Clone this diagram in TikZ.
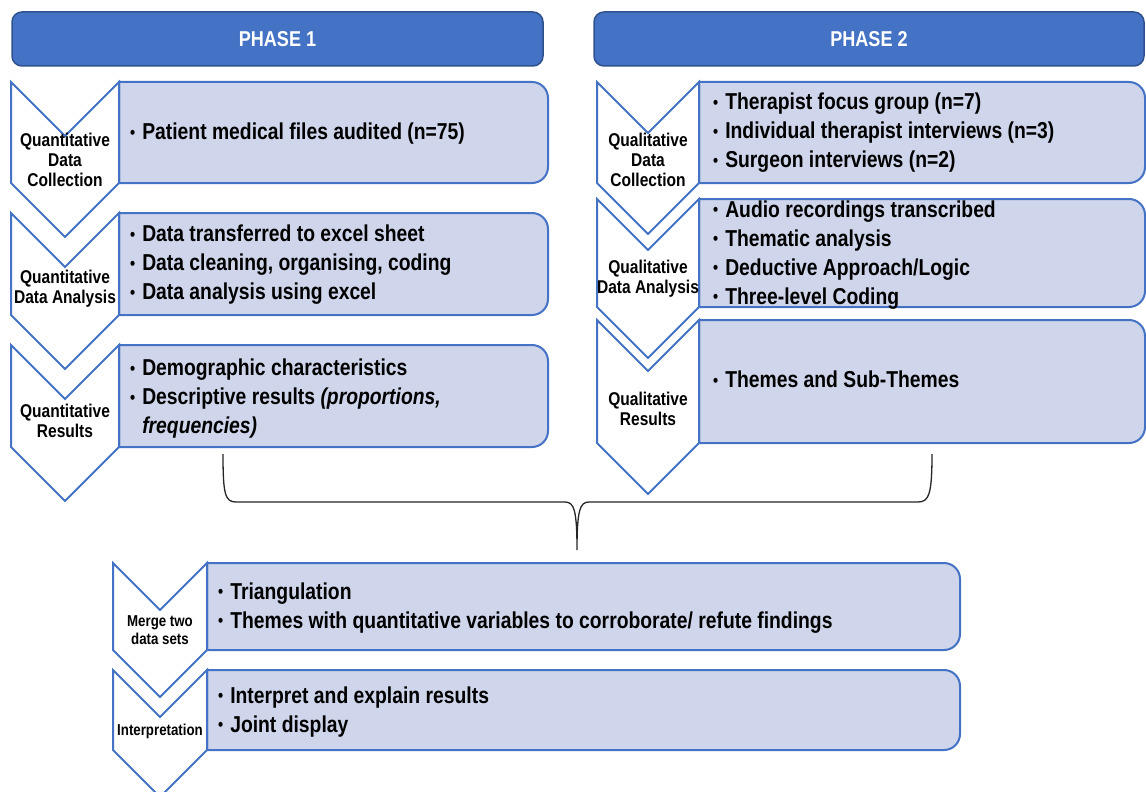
\documentclass[tikz,border=0pt]{standalone}
\usepackage{fontspec}
\usepackage{graphicx}
\setmainfont{Liberation Sans}[FakeStretch=0.84]
\definecolor{hdr}{HTML}{4472C4}
\definecolor{hdrb}{HTML}{2F528F}
\definecolor{bx}{HTML}{CFD5EA}
\definecolor{bxb}{HTML}{4472C4}
\tikzset{
 boxshape/.style={fill=bx, draw=bxb, line width=2pt},
 chevshape/.style={fill=white, draw=bxb, line width=2pt, line join=miter},
 hdrshape/.style={fill=hdr, draw=hdrb, line width=1.5pt, rounded corners=10pt,
   minimum width=531pt, minimum height=54pt, text=white,
   font=\fontsize{21.5}{24}\selectfont\bfseries},
 chevlabel/.style={align=center, inner sep=0pt, font=\fontsize{18.5}{20}\selectfont\bfseries},
 chevlabelsm/.style={align=center, inner sep=0pt, font=\fontsize{15.8}{18}\selectfont\bfseries},
 boxtext/.style={anchor=west, align=left, inner sep=0pt, font=\fontsize{23}{29}\selectfont\bfseries},
 bracestyle/.style={draw=black!85, line width=1.3pt},
}
\newcommand\rbox[4]{% x1, ytop, x2, ybottom (pixels, y down)
 \draw[boxshape] (#1,-#2) -- ({#3-16},-#2) arc[start angle=90,end angle=0,radius=16pt]
   -- (#3,{-#4+16}) arc[start angle=0,end angle=-90,radius=16pt] -- (#1,-#4) -- cycle;}
\newcommand\chev[4]{% x1, x2, ytop, yrectbottom
 \pgfmathsetmacro\chvxm{(#1+#2)/2}\pgfmathsetmacro\chvh{(#2-#1)/2}
 \draw[chevshape] (#1,-#3) -- (\chvxm,{-#3-\chvh}) -- (#2,-#3) -- (#2,-#4)
   -- (\chvxm,{-#4-\chvh}) -- (#1,-#4) -- cycle;}
\newcommand\bul{\raisebox{1.5pt}{\scalebox{0.75}{\textbullet}}}
\newenvironment{blist}{\begin{tabular}{@{}l@{\hspace{7pt}}l@{}}}{\end{tabular}}
\begin{document}
\begin{tikzpicture}[x=1pt,y=1pt]
\useasboundingbox (0,0) rectangle (1146,-792);
\fill[white] (0,0) rectangle (1146,-792);
% headers
\node[hdrshape] (ph1) at (277.5,-39) {PHASE 1};
\node[hdrshape, minimum width=550pt] (ph2) at (869,-39) {PHASE 2};
% phase 1 boxes
\rbox{119}{82}{548}{183}
\rbox{119}{213}{548}{315}
\rbox{119}{345}{548}{447}
% phase 2 boxes
\rbox{699}{82}{1145}{183}
\rbox{699}{199}{1145}{307}
\rbox{699}{320}{1145}{443}
% bottom boxes
\rbox{207}{563}{960}{650}
\rbox{207}{670}{960}{750}
% chevrons phase 1
\chev{11}{119}{82}{183}
\chev{11}{119}{213}{315}
\chev{11}{119}{345}{447}
% chevrons phase 2
\chev{597}{699}{82}{183}
\chev{597}{699}{199}{307}
\chev{597}{699}{320}{443}
% chevrons bottom
\chev{113}{207}{563}{650}
\chev{113}{207}{670}{750}
% chevron labels
\node[chevlabel] (l1) at (65,-160) {Quantitative\\Data\\Collection};
\node[chevlabel] (l2) at (65,-289) {Quantitative\\Data Analysis};
\node[chevlabel] (l3) at (65,-421) {Quantitative\\Results};
\node[chevlabel] (l4) at (648,-160) {Qualitative\\Data\\Collection};
\node[chevlabel] (l5) at (648,-279) {Qualitative\\Data Analysis};
\node[chevlabel] (l6) at (648,-409) {Qualitative\\Results};
\node[chevlabelsm] (l7) at (160,-630) {Merge two\\data sets};
\node[chevlabelsm] (l8) at (160,-731) {Interpretation};
% box texts
\node[boxtext] (t1) at (130,-134) {\begin{blist}\bul & Patient medical files audited (n=75)\end{blist}};
\node[boxtext] (t2) at (130,-265) {\begin{blist}\bul & Data transferred to excel sheet\\ \bul & Data cleaning, organising, coding\\ \bul & Data analysis using excel\end{blist}};
\node[boxtext] (t3) at (130,-399) {\begin{blist}\bul & Demographic characteristics\\ \bul & Descriptive results \textit{(proportions,}\\ & \textit{frequencies)}\end{blist}};
\node[boxtext] (t4) at (713,-133) {\begin{blist}\bul & Therapist focus group (n=7)\\ \bul & Individual therapist interviews (n=3)\\ \bul & Surgeon interviews (n=2)\end{blist}};
\node[boxtext] (t5) at (713,-255) {\begin{blist}\bul & Audio recordings transcribed\\ \bul & Thematic analysis\\ \bul & Deductive Approach/Logic\\ \bul & Three-level Coding\end{blist}};
\node[boxtext] (t6) at (713,-382) {\begin{blist}\bul & Themes and Sub-Themes\end{blist}};
\node[boxtext] (t7) at (218,-608) {\begin{blist}\bul & Triangulation\\ \bul & Themes with quantitative variables to corroborate/ refute findings\end{blist}};
\node[boxtext] (t8) at (218,-712) {\begin{blist}\bul & Interpret and explain results\\ \bul & Joint display\end{blist}};
% brace
\coordinate (bl) at (223,-454);
\coordinate (br) at (932,-454);
\coordinate (bt) at (577,-550);
\draw[bracestyle] (bl) .. controls (223,-494) and (225,-502) .. (236,-502) -- (565,-502)
  .. controls (574,-502) and (577,-510) .. (bt)
  .. controls (577,-510) and (580,-502) .. (589,-502) -- (918,-502)
  .. controls (929,-502) and (932,-494) .. (br);
\end{tikzpicture}
\end{document}
